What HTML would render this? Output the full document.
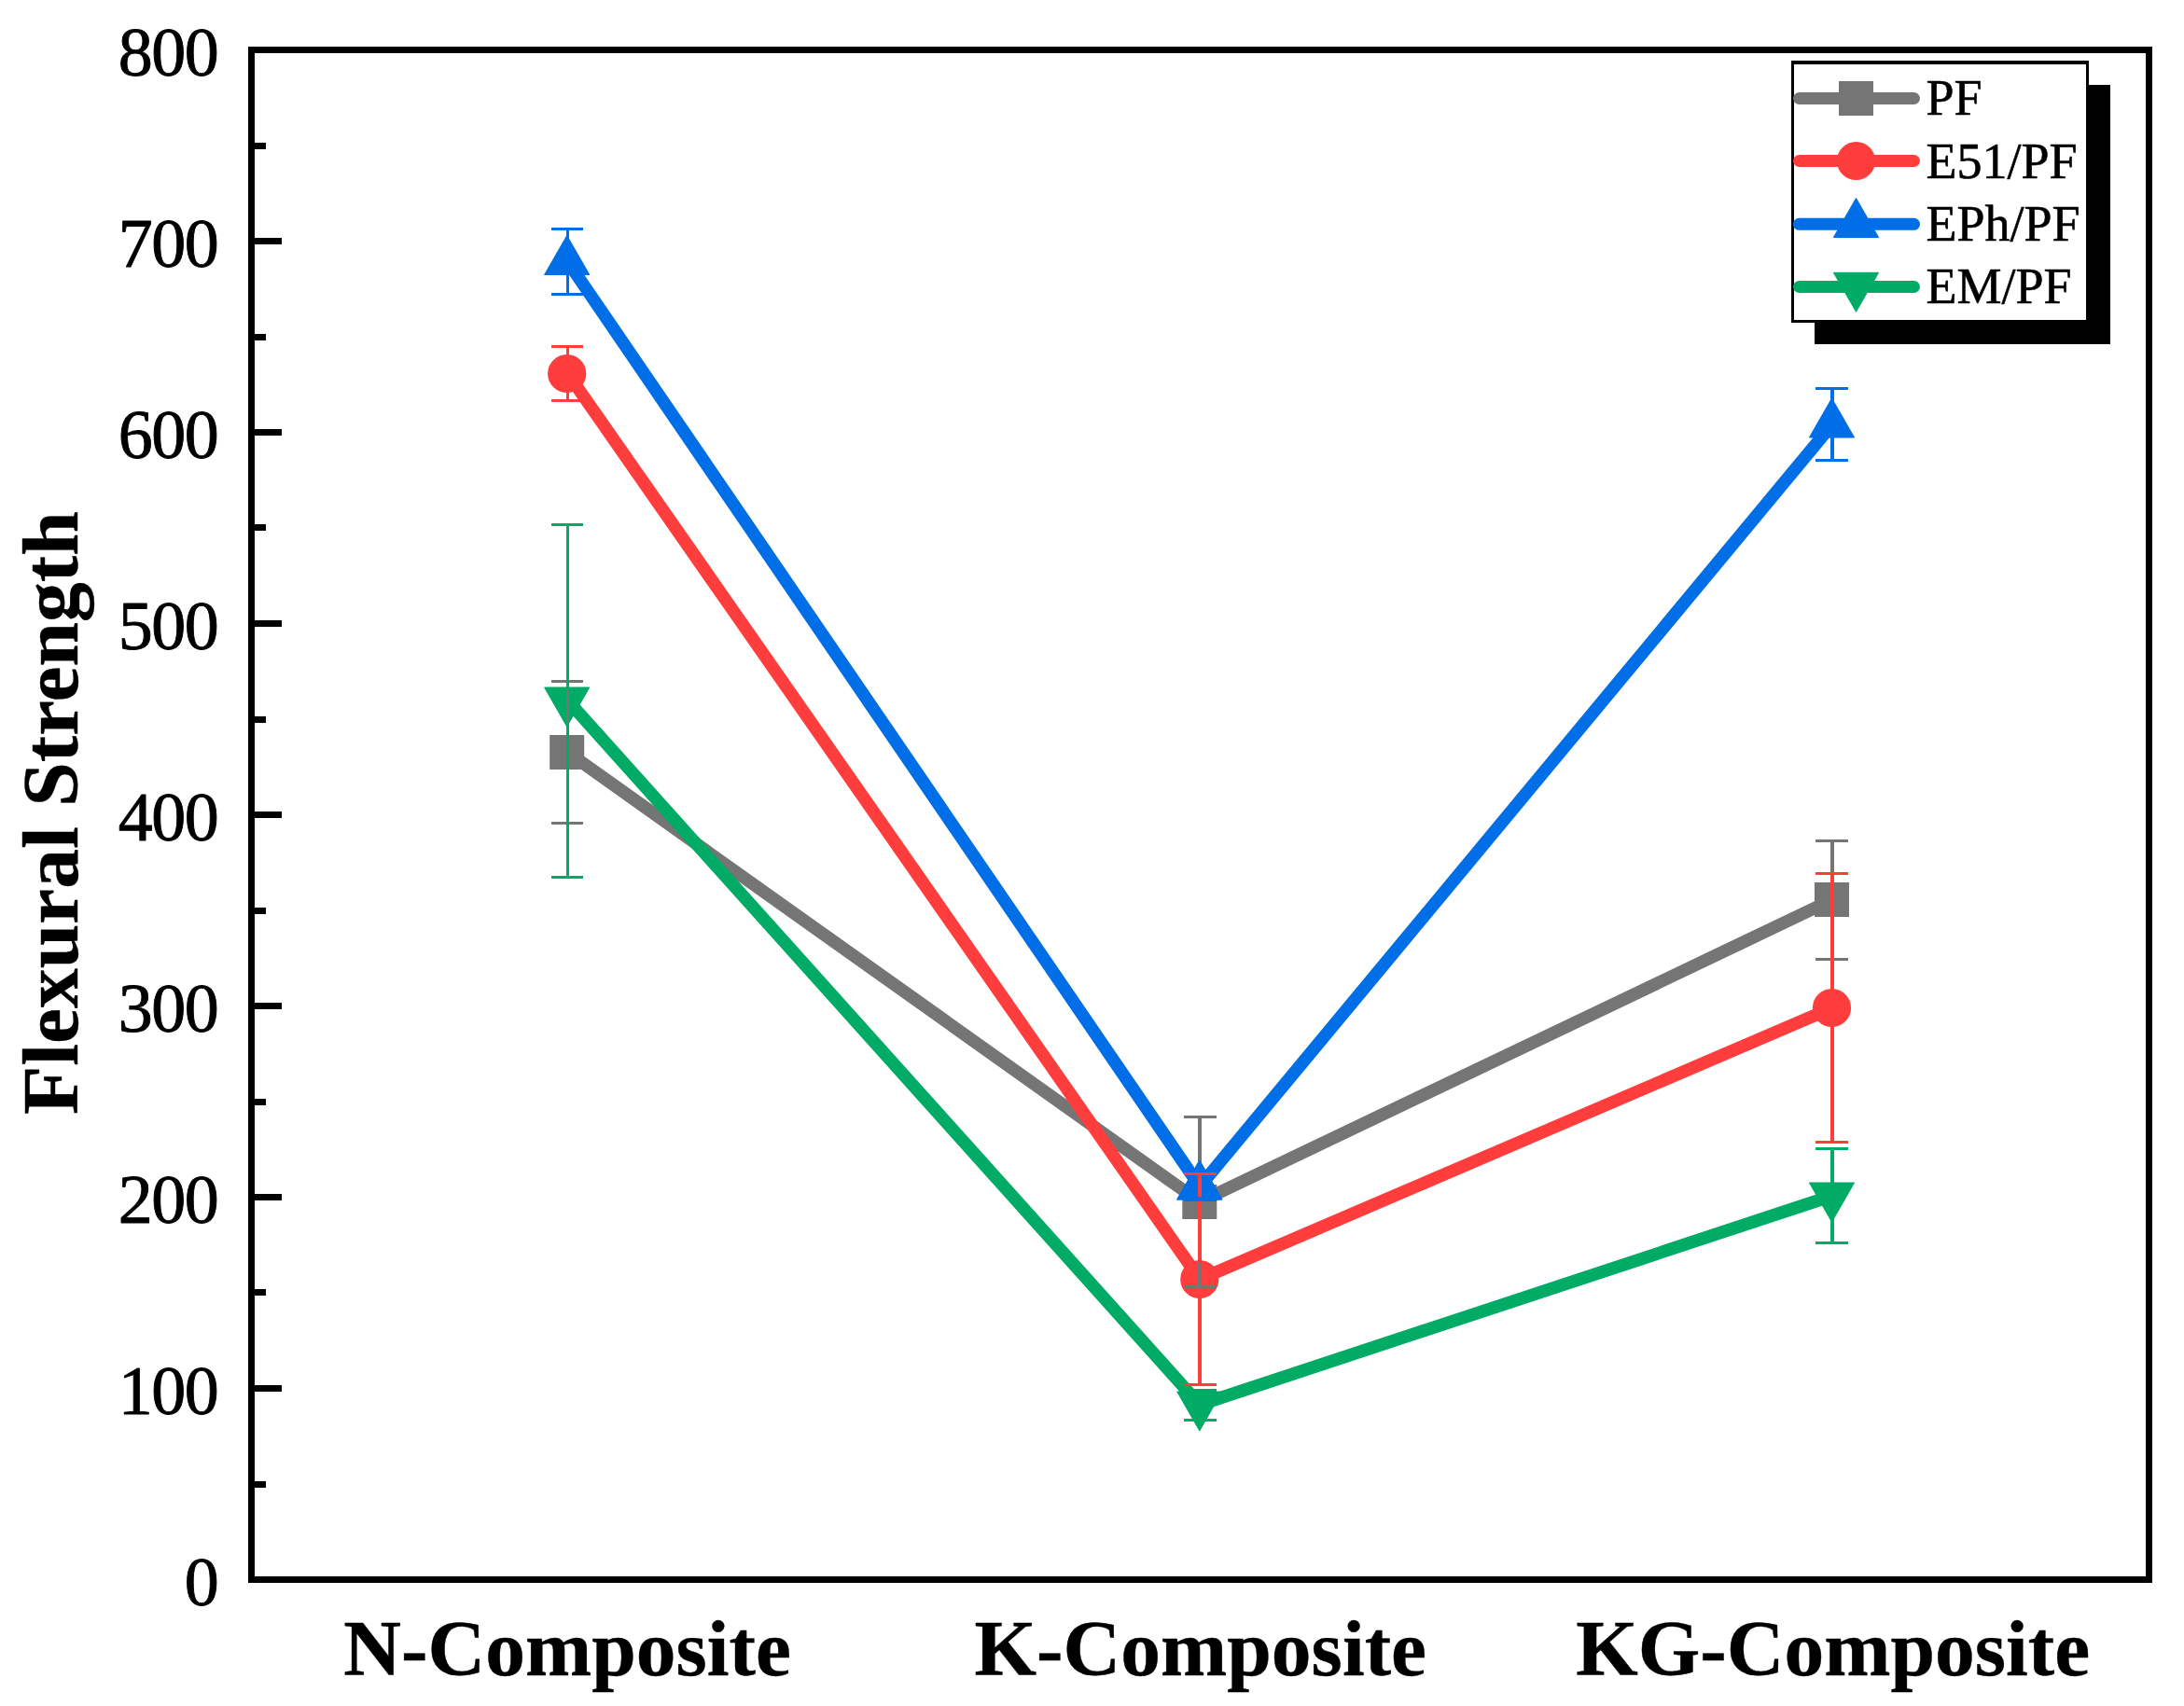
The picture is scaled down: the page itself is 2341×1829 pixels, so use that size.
<!DOCTYPE html>
<html lang="en"><head><meta charset="utf-8"><title>Flexural Strength</title>
<style>html,body{margin:0;padding:0;background:#fff;}body{width:2341px;height:1829px;overflow:hidden;}svg{display:block;}text{font-family:"Liberation Serif",serif;fill:#000;}.tick{font-size:74px;text-anchor:end;letter-spacing:-1.5px;stroke:#000;stroke-width:0.9px;stroke-linejoin:round;}.cat{font-size:85.5px;font-weight:bold;text-anchor:middle;stroke:#000;stroke-width:0.4px;}.ttl{font-size:85.5px;font-weight:bold;text-anchor:middle;stroke:#000;stroke-width:0.4px;}.leg{font-size:54px;text-anchor:start;stroke:#000;stroke-width:0.6px;stroke-linejoin:round;}</style></head><body>
<svg width="2341" height="1829" viewBox="0 0 2341 1829">
<rect x="0" y="0" width="2341" height="1829" fill="#fff"/>
<g shape-rendering="crispEdges">
<rect x="1945" y="91" width="317" height="278" fill="#000"/>
<rect x="1920" y="65" width="319" height="281" fill="#000"/>
<rect x="1923" y="69" width="313" height="274" fill="#fff"/>
</g>
<g shape-rendering="crispEdges" fill="#000">
<rect x="266" y="50" width="2041" height="7"/>
<rect x="266" y="1690" width="2041" height="7"/>
<rect x="266" y="50" width="7" height="1647"/>
<rect x="2300" y="50" width="7" height="1647"/>
<rect x="273" y="1588" width="12" height="7"/>
<rect x="273" y="1485" width="29" height="7"/>
<rect x="273" y="1382" width="12" height="7"/>
<rect x="273" y="1280" width="29" height="7"/>
<rect x="273" y="1178" width="12" height="7"/>
<rect x="273" y="1075" width="29" height="7"/>
<rect x="273" y="973" width="12" height="7"/>
<rect x="273" y="870" width="29" height="7"/>
<rect x="273" y="768" width="12" height="7"/>
<rect x="273" y="665" width="29" height="7"/>
<rect x="273" y="562" width="12" height="7"/>
<rect x="273" y="460" width="29" height="7"/>
<rect x="273" y="358" width="12" height="7"/>
<rect x="273" y="255" width="29" height="7"/>
<rect x="273" y="153" width="12" height="7"/>
</g>
<text class="tick" x="233.3" y="1721.1">0</text>
<text class="tick" x="233.3" y="1516.1">100</text>
<text class="tick" x="233.3" y="1311.1">200</text>
<text class="tick" x="233.3" y="1106.1">300</text>
<text class="tick" x="233.3" y="901.1">400</text>
<text class="tick" x="233.3" y="696.1">500</text>
<text class="tick" x="233.3" y="491.1">600</text>
<text class="tick" x="233.3" y="286.1">700</text>
<text class="tick" x="233.3" y="81.1">800</text>
<text class="cat" x="608.10" y="1795.5">N-Composite</text>
<text class="cat" x="1286.85" y="1795.5">K-Composite</text>
<text class="cat" x="1964.75" y="1795.5">KG-Composite</text>
<text class="ttl" transform="translate(83,871.5) rotate(-90)">Flexural Strength</text>
<g>
<polyline points="608.5,806.5 1286.0,1288.5 1964.0,964.5" fill="none" stroke="#757575" stroke-width="13.5" stroke-linejoin="round" stroke-linecap="butt"/>
<rect x="589.2" y="788.0" width="37" height="37" fill="#757575"/>
<rect x="1267.3" y="1270.0" width="37" height="37" fill="#757575"/>
<rect x="1945.0" y="946.0" width="37" height="37" fill="#757575"/>
<polyline points="608.5,400.5 1286.0,1371.5 1964.0,1080.5" fill="none" stroke="#FF3D3D" stroke-width="13.5" stroke-linejoin="round" stroke-linecap="butt"/>
<circle cx="607.7" cy="400.5" r="20.6" fill="#FF3D3D"/>
<circle cx="1285.8" cy="1371.5" r="20.6" fill="#FF3D3D"/>
<circle cx="1963.5" cy="1080.5" r="20.6" fill="#FF3D3D"/>
<polyline points="608.5,280.5 1286.0,1272.0 1964.0,455.0" fill="none" stroke="#006EE6" stroke-width="13.5" stroke-linejoin="round" stroke-linecap="butt"/>
<polygon points="607.7,252.5 631.8,294.5 583.6,294.5" fill="#006EE6" stroke="#006EE6" stroke-width="1" stroke-linejoin="round"/>
<polygon points="1285.8,1244.0 1309.9,1286.0 1261.7,1286.0" fill="#006EE6" stroke="#006EE6" stroke-width="1" stroke-linejoin="round"/>
<polygon points="1963.5,427.0 1987.6,469.0 1939.4,469.0" fill="#006EE6" stroke="#006EE6" stroke-width="1" stroke-linejoin="round"/>
<polyline points="608.5,751.0 1286.0,1506.0 1964.0,1282.0" fill="none" stroke="#00AB66" stroke-width="13.5" stroke-linejoin="round" stroke-linecap="butt"/>
<polygon points="607.7,779.0 631.8,737.0 583.6,737.0" fill="#00AB66" stroke="#00AB66" stroke-width="1" stroke-linejoin="round"/>
<polygon points="1285.8,1534.0 1309.9,1492.0 1261.7,1492.0" fill="#00AB66" stroke="#00AB66" stroke-width="1" stroke-linejoin="round"/>
<polygon points="1963.5,1310.0 1987.6,1268.0 1939.4,1268.0" fill="#00AB66" stroke="#00AB66" stroke-width="1" stroke-linejoin="round"/>
</g>
<g shape-rendering="crispEdges">
<rect x="591.0" y="729.0" width="34.0" height="3.0" fill="#757575"/>
<rect x="591.0" y="881.0" width="34.0" height="3.0" fill="#757575"/>
<rect x="606.80" y="730.5" width="3.4" height="152.0" fill="#757575"/>
<rect x="1269.0" y="1196.0" width="34.7" height="3.0" fill="#757575"/>
<rect x="1269.0" y="1378.0" width="34.7" height="3.0" fill="#757575"/>
<rect x="1284.30" y="1197.5" width="3.4" height="182.0" fill="#757575"/>
<rect x="1946.0" y="900.0" width="35.0" height="3.0" fill="#757575"/>
<rect x="1946.0" y="1027.0" width="35.0" height="3.0" fill="#757575"/>
<rect x="1962.30" y="901.5" width="3.4" height="127.0" fill="#757575"/>
</g>
<polygon points="1285.8,1244.0 1309.9,1286.0 1261.7,1286.0" fill="#006EE6" stroke="#006EE6" stroke-width="1" stroke-linejoin="round"/>
<g shape-rendering="crispEdges">
<rect x="591.0" y="370.0" width="34.0" height="3.0" fill="#FF3D3D"/>
<rect x="591.0" y="428.0" width="34.0" height="3.0" fill="#FF3D3D"/>
<rect x="606.80" y="371.5" width="3.4" height="58.0" fill="#FF3D3D"/>
<rect x="1269.0" y="1257.0" width="34.7" height="3.0" fill="#FF3D3D"/>
<rect x="1269.0" y="1483.0" width="34.7" height="3.0" fill="#FF3D3D"/>
<rect x="1284.30" y="1258.5" width="3.4" height="95.5" fill="#FF3D3D"/>
<rect x="1284.30" y="1389.0" width="3.4" height="95.5" fill="#FF3D3D"/>
<rect x="1946.0" y="935.0" width="35.0" height="3.0" fill="#FF3D3D"/>
<rect x="1946.0" y="1223.0" width="35.0" height="3.0" fill="#FF3D3D"/>
<rect x="1962.30" y="936.5" width="3.4" height="288.0" fill="#FF3D3D"/>
<rect x="591.0" y="244.0" width="34.0" height="3.0" fill="#006EE6"/>
<rect x="591.0" y="314.0" width="34.0" height="3.0" fill="#006EE6"/>
<rect x="606.80" y="245.5" width="3.4" height="70.0" fill="#006EE6"/>
<rect x="1269.0" y="1285.3" width="34.7" height="3.0" fill="#006EE6"/>
<rect x="1284.30" y="1283.0" width="3.4" height="4.0" fill="#006EE6"/>
<rect x="1946.0" y="415.0" width="35.0" height="3.0" fill="#006EE6"/>
<rect x="1946.0" y="492.0" width="35.0" height="3.0" fill="#006EE6"/>
<rect x="1962.30" y="416.5" width="3.4" height="77.0" fill="#006EE6"/>
<rect x="591.0" y="560.5" width="34.0" height="3.0" fill="#00AB66"/>
<rect x="591.0" y="938.5" width="34.0" height="3.0" fill="#00AB66"/>
<rect x="606.80" y="562.0" width="3.4" height="177.0" fill="#00AB66"/>
<rect x="606.80" y="775.0" width="3.4" height="165.0" fill="#00AB66"/>
<rect x="1269.0" y="1488.5" width="34.7" height="3.0" fill="#00AB66"/>
<rect x="1269.0" y="1521.0" width="34.7" height="3.0" fill="#00AB66"/>
<rect x="1284.30" y="1490.0" width="3.4" height="32.5" fill="#00AB66"/>
<rect x="1946.0" y="1230.0" width="35.0" height="3.0" fill="#00AB66"/>
<rect x="1946.0" y="1331.0" width="35.0" height="3.0" fill="#00AB66"/>
<rect x="1962.30" y="1231.5" width="3.4" height="101.0" fill="#00AB66"/>
</g>
<line x1="1928.5" y1="105.5" x2="2051.5" y2="105.5" stroke="#757575" stroke-width="13" stroke-linecap="round"/>
<line x1="1928.5" y1="172.5" x2="2051.5" y2="172.5" stroke="#FF3D3D" stroke-width="13" stroke-linecap="round"/>
<line x1="1928.5" y1="240.3" x2="2051.5" y2="240.3" stroke="#006EE6" stroke-width="13" stroke-linecap="round"/>
<line x1="1928.5" y1="307.5" x2="2051.5" y2="307.5" stroke="#00AB66" stroke-width="13" stroke-linecap="round"/>
<rect x="1971.0" y="87.0" width="37" height="37" fill="#757575"/>
<circle cx="1989.5" cy="172.5" r="20.6" fill="#FF3D3D"/>
<polygon points="1989.5,212.5 2013.6,254.5 1965.4,254.5" fill="#006EE6" stroke="#006EE6" stroke-width="1" stroke-linejoin="round"/>
<polygon points="1989.5,334.3 2013.6,292.3 1965.4,292.3" fill="#00AB66" stroke="#00AB66" stroke-width="1" stroke-linejoin="round"/>
<text class="leg" x="2064.4" y="123">PF</text>
<text class="leg" x="2064.4" y="191">E51/PF</text>
<text class="leg" x="2064.4" y="258">EPh/PF</text>
<text class="leg" x="2064.4" y="325">EM/PF</text>
</svg></body></html>
